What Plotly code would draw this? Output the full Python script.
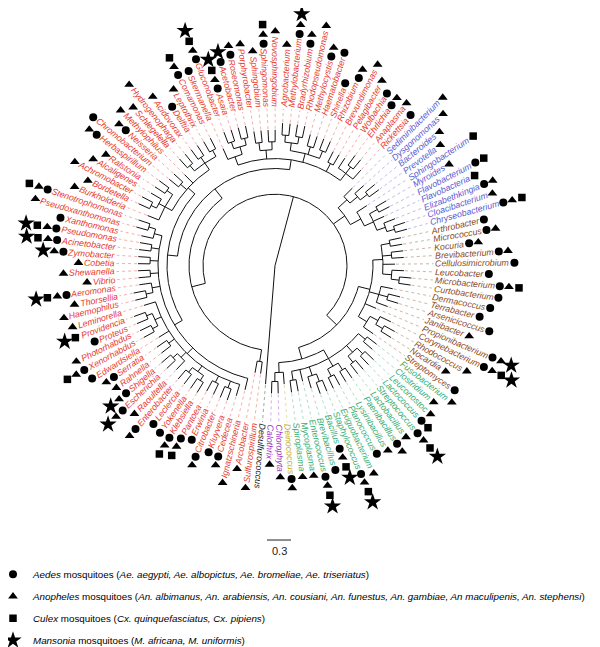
import numpy as np
import plotly.graph_objects as go

# ---------------- data ----------------
taxa = [
    "Sulfurospirillum", "Arcobacter", "Ignatzschineria", "Cedecea", "Kluyvera", "Citrobacter",
    "Erwinia", "Pantoea", "Klebsiella", "Yokenella", "Leclercia", "Enterobacter", "Raoultella",
    "Escherichia", "Shigella", "Rahnella", "Serratia", "Edwardsiella", "Xenorhabdus",
    "Photorhabdus", "Proteus", "Providencia", "Leminorella", "Haemophilus", "Thorsellia",
    "Aeromonas", "Vibrio", "Shewanella", "Cobetia", "Zymobacter", "Acinetobacter", "Pseudomonas",
    "Xanthomonas", "Pseudoxanthomonas", "Stenotrophomonas", "Burkholderia", "Bordetella",
    "Achromobacter", "Alcaligenes", "Ralstonia", "Herbaspirillum", "Chromobacterium", "Neisseria",
    "Methylophilus", "Schlegelella", "Hydrogenophaga", "Acidovorax", "Delftia", "Leptothrix",
    "Comamonas", "Skermanella", "Gluconobacter", "Asaia", "Acetobacter", "Roseomonas",
    "Porphyrobacter", "Sphingobium", "Sphingomonas", "Novosphingobium", "Agrobacterium",
    "Methylobacterium", "Bradyrhizobium", "Rhodopseudomonas", "Methylocystis", "Haematobacter",
    "Shinella", "Rhizobium", "Brevundimonas", "Pelagibacter", "Wolbachia", "Ehrlichia",
    "Anaplasma", "Rickettsia",
    "Sediminibacterium", "Dysgonomonas", "Bacteroides", "Prevotella", "Sphingobacterium",
    "Myroides", "Flavobacterium", "Flavobacteria", "Elizabethkingia", "Cloacibacterium",
    "Chryseobacterium",
    "Arthrobacter", "Micrococcus", "Kocuria", "Brevibacterium", "Cellulosimicrobium",
    "Leucobacter", "Microbacterium", "Curtobacterium", "Dermacoccus", "Terrabacter",
    "Arsenicicoccus", "Janibacter", "Propionibacterium", "Corynebacterium", "Rhodococcus",
    "Nocardia", "Streptomyces",
    "Fusobacterium", "Clostridium", "Leuconostoc", "Lactococcus", "Streptococcus",
    "Lactobacillus", "Paenibacillus", "Lysinibacillus", "Planococcus", "Exiguobacterium",
    "Staphylococcus", "Bacillus", "Brevibacillus", "Enterococcus", "Mycoplasma", "Spiroplasma",
    "Deinococcus", "Chlorophyta", "Calothrix", "Desulfurococcus",
]

phylum = (["Proteobacteria"] * 73 + ["Bacteroidetes"] * 11 + ["Actinobacteria"] * 17 +
          ["Firmicutes"] * 16 + ["Deinococcus"] + ["Cyanobacteria"] * 2 + ["Archaea"])

# mosquito genera recorded per bacterial genus: C=Aedes, T=Anopheles, S=Culex, X=Mansonia
hosts = [
    "T", "T", "T", "CT", "C", "CT",
    "C", "CTS", "CTS", "C", "C", "CT", "T",
    "CTX", "CTX", "T", "CT", "C", "CTS",
    "T", "C", "SX", "T", "T", "T",
    "CTSX", "T", "T", "T", "CTX", "CTSX", "CTSX",
    "C", "T", "CTS", "T", "T",
    "T", "T", "T", "CT", "C", "CT",
    "T", "T", "T", "T", "C", "T",
    "CTS", "C", "CTSX", "CTSX", "CX", "CT",
    "T", "T", "CTS", "T", "T",
    "CTX", "CT", "T", "CT", "C",
    "C", "CT", "T", "T", "C", "CT",
    "T", "C",
    "T", "T", "T", "T", "S",
    "T", "CS", "S", "CT", "T",
    "CTS",
    "C", "CT", "CT", "CT", "C",
    "C", "CTS", "C", "C", "C",
    "C", "T", "CTX", "CTSX", "T",
    "T", "C",
    "T", "T", "T", "CS", "CTSX",
    "T", "CT", "T", "C", "T",
    "CTSX", "CTSX", "C", "CTSX", "T", "T",
    "CT", "T", "T", "",
]

phylum_colors = {
    "Proteobacteria": "#e8392f", "Bacteroidetes": "#5a5ad2", "Actinobacteria": "#8b4a1e",
    "Firmicutes": "#35ad72", "Deinococcus": "#c2ae1c", "Cyanobacteria": "#9b34c8",
    "Archaea": "#222222",
}

host_symbols = {"C": "circle", "T": "triangle-up", "S": "square", "X": "star"}
host_sizes = {"C": 8, "T": 8.5, "S": 7.5, "X": 13}
host_half = {"C": 4.3, "T": 4.9, "S": 5.2, "X": 6.2}
host_names = {
    "C": "<i>Aedes</i> mosquitoes (<i>Ae. aegypti, Ae. albopictus, Ae. bromeliae, Ae. triseriatus</i>)",
    "T": "<i>Anopheles</i> mosquitoes (<i>An. albimanus, An. arabiensis, An. cousiani, An. funestus, An. gambiae, An maculipenis, An. stephensi</i>)",
    "S": "<i>Culex</i> mosquitoes (<i>Cx. quinquefasciatus, Cx. pipiens</i>)",
    "X": "<i>Mansonia</i> mosquitoes (<i>M. africana, M. uniformis</i>)",
}

# tree topology (tips in the same order as taxa)
entero = ["Cedecea", ["Kluyvera", "Citrobacter"], ["Erwinia", "Pantoea"],
          [["Klebsiella", "Yokenella"], ["Leclercia", "Enterobacter"]],
          ["Raoultella", ["Escherichia", "Shigella"]], ["Rahnella", "Serratia"], "Edwardsiella",
          [["Xenorhabdus", "Photorhabdus"], ["Proteus", "Providencia"]], "Leminorella"]
gamma = ["Ignatzschineria", entero, [["Haemophilus", "Thorsellia"], "Aeromonas"],
         ["Vibrio", "Shewanella"], ["Cobetia", "Zymobacter"], ["Acinetobacter", "Pseudomonas"],
         ["Xanthomonas", ["Pseudoxanthomonas", "Stenotrophomonas"]]]
beta = [["Burkholderia", [["Bordetella", "Achromobacter"], "Alcaligenes"],
         ["Ralstonia", "Herbaspirillum"]], ["Chromobacterium", "Neisseria"], "Methylophilus",
        [["Schlegelella", "Hydrogenophaga"], ["Acidovorax", "Delftia"], ["Leptothrix", "Comamonas"]]]
alpha = [["Skermanella", [["Gluconobacter", "Asaia"], ["Acetobacter", "Roseomonas"]]],
         [["Porphyrobacter", "Sphingobium"], ["Sphingomonas", "Novosphingobium"]],
         [[["Agrobacterium", "Methylobacterium"], ["Bradyrhizobium", "Rhodopseudomonas"]],
          ["Methylocystis", "Haematobacter"], ["Shinella", "Rhizobium"]],
         ["Brevundimonas", "Pelagibacter"],
         ["Wolbachia", ["Ehrlichia", "Anaplasma"], "Rickettsia"]]
proteo = [["Sulfurospirillum", "Arcobacter"], [[gamma, beta], alpha]]
bacteroid = [["Sediminibacterium", ["Dysgonomonas", ["Bacteroides", "Prevotella"]]],
             ["Sphingobacterium", [["Myroides", "Flavobacterium"], "Flavobacteria",
                                   ["Elizabethkingia", ["Cloacibacterium", "Chryseobacterium"]]]]]
actino = [[["Arthrobacter", "Micrococcus"], ["Kocuria", "Brevibacterium"], "Cellulosimicrobium",
           ["Leucobacter", ["Microbacterium", "Curtobacterium"]]],
          ["Dermacoccus", ["Terrabacter", "Arsenicicoccus"], "Janibacter"], "Propionibacterium",
          [["Corynebacterium", ["Rhodococcus", "Nocardia"]], "Streptomyces"]]
firmi = [["Fusobacterium", "Clostridium"],
         [["Leuconostoc", "Lactococcus"], ["Streptococcus", "Lactobacillus"]],
         [["Paenibacillus", "Lysinibacillus"], ["Planococcus", "Exiguobacterium"]],
         [["Staphylococcus", "Bacillus"], "Brevibacillus"], "Enterococcus",
         ["Mycoplasma", "Spiroplasma"]]
tree = [[proteo, bacteroid, [actino, [firmi, ["Deinococcus", ["Chlorophyta", "Calothrix"]]]]],
        "Desulfurococcus"]

node_radius = [0, 72, 86, 98, 108, 117, 125, 132, 138, 143, 147]
scale_bar_value = 0.3

# ---------------- geometry helpers ----------------
N = len(taxa)
start_angle = 262.5
step = 360.0 / N
tip_angle = {name: start_angle - step * i for i, name in enumerate(taxa)}

HELV = {
    'a': 556, 'b': 556, 'c': 500, 'd': 556, 'e': 556, 'f': 278, 'g': 556, 'h': 556, 'i': 222,
    'j': 222, 'k': 500, 'l': 222, 'm': 833, 'n': 556, 'o': 556, 'p': 556, 'q': 556, 'r': 333,
    's': 500, 't': 278, 'u': 556, 'v': 500, 'w': 722, 'x': 500, 'y': 500, 'z': 500,
    'A': 667, 'B': 667, 'C': 722, 'D': 722, 'E': 667, 'F': 611, 'G': 778, 'H': 722, 'I': 278,
    'J': 500, 'K': 667, 'L': 556, 'M': 833, 'N': 722, 'O': 778, 'P': 667, 'Q': 778, 'R': 722,
    'S': 667, 'T': 611, 'U': 722, 'V': 667, 'W': 944, 'X': 667, 'Y': 667, 'Z': 611,
}
FS = 8.8


def text_width(s, size=FS):
    return sum(HELV.get(ch, 556) for ch in s) * size / 1000.0


def pol(r, a_deg):
    a = np.deg2rad(a_deg)
    return r * np.cos(a), r * np.sin(a)


tree_x, tree_y = [], []
tip_r = {}


def add_seg(xs, ys):
    tree_x.extend(list(xs) + [None])
    tree_y.extend(list(ys) + [None])


def draw(node, depth, parent_r):
    if isinstance(node, str):
        a = tip_angle[node]
        r = parent_r + (120 if depth == 1 else 12)
        r = min(r, 152)
        tip_r[node] = r
        x0, y0 = pol(parent_r, a)
        x1, y1 = pol(r, a)
        add_seg([x0, x1], [y0, y1])
        return a
    r = node_radius[min(depth, len(node_radius) - 1)]
    angs = [draw(c, depth + 1, r) for c in node]
    lo, hi = min(angs), max(angs)
    arc = np.linspace(lo, hi, max(2, int(abs(hi - lo) * 2)))
    ax, ay = pol(r, arc)
    add_seg(ax, ay)
    a = (lo + hi) / 2
    if depth > 0:
        x0, y0 = pol(parent_r, a)
        x1, y1 = pol(r, a)
        add_seg([x0, x1], [y0, y1])
    return a


draw(tree, 0, 0)

R_LABEL = 160.5

fig = go.Figure()

# tree branches
fig.add_trace(go.Scatter(x=tree_x, y=tree_y, mode="lines",
                         line=dict(color="#111111", width=1), showlegend=False,
                         hoverinfo="skip"))

# dotted leader lines per phylum
for ph, col in phylum_colors.items():
    xs, ys = [], []
    for name, p in zip(taxa, phylum):
        if p != ph:
            continue
        a = tip_angle[name]
        x0, y0 = pol(tip_r[name] + 1, a)
        x1, y1 = pol(R_LABEL - 2, a)
        xs += [x0, x1, None]
        ys += [y0, y1, None]
    fig.add_trace(go.Scatter(x=xs, y=ys, mode="lines", opacity=0.5,
                             line=dict(color=col, width=0.8, dash="dot"),
                             showlegend=False, hoverinfo="skip"))

# labels
annotations = []
label_end = {}
for name, p in zip(taxa, phylum):
    a = tip_angle[name]
    w = text_width(name)
    cx, cy = pol(R_LABEL + w / 2, a)
    am = a % 360
    if 88.5 < am < 264:
        ta = 180 - am
    else:
        ta = -am
    ta = (ta + 180) % 360 - 180
    label_end[name] = R_LABEL + w
    annotations.append(dict(x=cx, y=cy, xref="x", yref="y", text=name, showarrow=False,
                            textangle=ta, xanchor="center", yanchor="middle",
                            font=dict(family="Liberation Sans, Arial", size=FS,
                                      color=phylum_colors[p], style="italic")))

# host markers
pts = {k: ([], []) for k in "CTSX"}
for name, h in zip(taxa, hosts):
    a = tip_angle[name]
    r = label_end[name] + 0.8
    for k in "CTSX":
        if k in h:
            r += host_half[k]
            x, y = pol(r, a)
            pts[k][0].append(x)
            pts[k][1].append(y)
            r += host_half[k]

for k in "CTSX":
    fig.add_trace(go.Scatter(x=pts[k][0], y=pts[k][1], mode="markers",
                             marker=dict(symbol=host_symbols[k], size=host_sizes[k], color="black",
                                         line=dict(width=0)),
                             name=host_names[k], legendgroup=k, hoverinfo="skip"))

# scale bar (0.3 substitutions per site)
unit = 80.0  # pixels per unit branch length
sb_y = -277
fig.add_shape(type="line", x0=-8, x1=-8 + scale_bar_value * unit, y0=sb_y, y1=sb_y,
              line=dict(color="#444444", width=1.2), xref="x", yref="y")
annotations.append(dict(x=-8 + scale_bar_value * unit / 2, y=sb_y - 3, xref="x", yref="y",
                        text=str(scale_bar_value), showarrow=False, yanchor="top",
                        font=dict(family="Liberation Sans, Arial", size=11, color="#222222")))

W, H = 600, 647
CX, CY = 267, 260
fig.update_layout(
    width=W, height=H, margin=dict(l=0, r=0, t=0, b=0),
    paper_bgcolor="white", plot_bgcolor="white",
    xaxis=dict(range=[-CX, W - CX], visible=False, fixedrange=True),
    yaxis=dict(range=[CY - H, CY], visible=False, fixedrange=True),
    annotations=annotations,
    showlegend=True,
    legend=dict(x=0, xanchor="left", y=(H - 557) / H, yanchor="top", indentation=-15,
                font=dict(family="Liberation Sans, Arial", size=9.8, color="black"),
                tracegroupgap=3, itemsizing="trace", bgcolor="rgba(0,0,0,0)"),
)

fig.write_html("out.html")
